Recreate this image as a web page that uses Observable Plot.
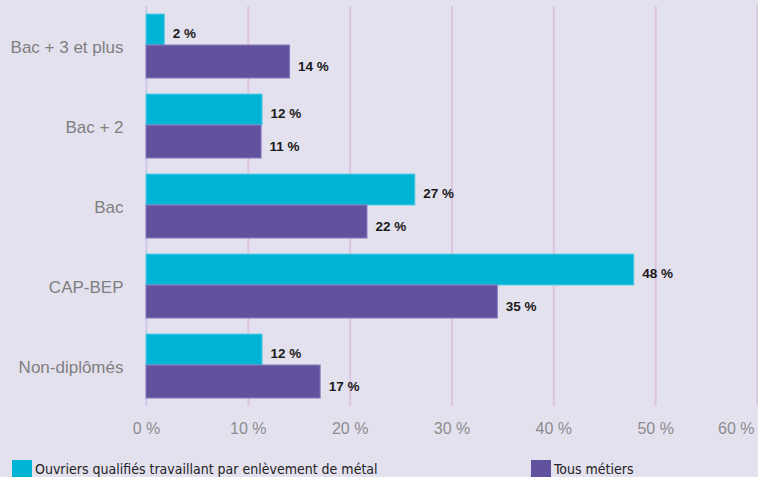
<!DOCTYPE html>
<html>
<head>
<meta charset="utf-8">
<script src="https://cdn.jsdelivr.net/npm/d3@7"></script>
<script src="https://cdn.jsdelivr.net/npm/@observablehq/plot@0.6"></script>
<style>
  html, body { margin: 0; padding: 0; background: #e4e1ef; width: 758px; height: 477px; overflow: hidden; }
  #chart svg { display: block; }
  .legend { position: relative; height: 29px; font-family: "DejaVu Sans Condensed", "DejaVu Sans", sans-serif; font-stretch: condensed; font-size: 14px; color: #222; }
  .legend .item { position: absolute; top: 12px; display: flex; align-items: flex-start; }
  .legend .sw { width: 20px; height: 20px; margin-right: 3px; }
  .legend .lab { line-height: 18px; }
</style>
</head>
<body>
<div id="chart"></div>
<div class="legend" id="legend"></div>
<script>
const categories = ["Bac + 3 et plus", "Bac + 2", "Bac", "CAP-BEP", "Non-diplômés"];
const seriesNames = ["Ouvriers qualifiés travaillant par enlèvement de métal", "Tous métiers"];
const ouvriersValues = [1.8, 11.4, 26.4, 47.9, 11.4];
const tousValues = [14.1, 11.3, 21.7, 34.5, 17.1];
const ouvriersLabels = ["2 %", "12 %", "27 %", "48 %", "12 %"];
const tousLabels = ["14 %", "11 %", "22 %", "35 %", "17 %"];
const xTicks = [0, 10, 20, 30, 40, 50, 60];
const xTickLabels = ["0 %", "10 %", "20 %", "30 %", "40 %", "50 %", "60 %"];
const colors = ["#00b4d6", "#62529e"];

const ouv = categories.map((c, i) => ({cat: c, v: ouvriersValues[i], label: ouvriersLabels[i]}));
const tous = categories.map((c, i) => ({cat: c, v: tousValues[i], label: tousLabels[i]}));
const ticks = xTicks.map((t, i) => ({t, label: xTickLabels[i]}));

const chart = Plot.plot({
  width: 758,
  height: 448,
  marginLeft: 146,
  marginRight: 1,
  marginTop: 6,
  marginBottom: 42,
  style: {background: "transparent", fontFamily: "'Liberation Sans', Arial, sans-serif"},
  x: {domain: [0, 60], axis: null},
  y: {domain: categories, paddingInner: 0.2, paddingOuter: 0.1, axis: null},
  marks: [
    Plot.ruleX(ticks.filter(d => d.t > 0), {x: "t", stroke: "#dcc3df", strokeWidth: 2}),
    Plot.ruleX([0], {stroke: "#c8cbe9", strokeWidth: 2}),
    Plot.barX(ouv, {y: "cat", x: "v", fill: colors[0], stroke: "#5ccbe4", strokeWidth: 1, insetBottom: 33}),
    Plot.barX(tous, {y: "cat", x: "v", fill: colors[1], stroke: "#8679bd", strokeWidth: 1, insetTop: 31}),
    Plot.text(ouv, {y: "cat", x: "v", text: "label", dy: -13, dx: 8, textAnchor: "start", fontSize: 13.5, fontWeight: "bold", fill: "#1a1a1a"}),
    Plot.text(tous, {y: "cat", x: "v", text: "label", dy: 20, dx: 8, textAnchor: "start", fontSize: 13.5, fontWeight: "bold", fill: "#1a1a1a"}),
    Plot.text(categories, {y: d => d, x: 0, text: d => d, dx: -23, dy: 1, textAnchor: "end", fontSize: 17, fill: "#7f7f7f"}),
    Plot.text(ticks.slice(0, -1), {x: "t", frameAnchor: "bottom", text: "label", dy: 27, fontSize: 16, fill: "#8c8c8c"}),
    Plot.text(ticks.slice(-1), {x: "t", frameAnchor: "bottom", text: "label", dy: 27, dx: -3, textAnchor: "end", fontSize: 16, fill: "#8c8c8c"})
  ]
});
document.getElementById("chart").appendChild(chart);

const legend = document.getElementById("legend");
const lefts = [12, 531];
seriesNames.forEach((name, i) => {
  const item = document.createElement("div");
  item.className = "item";
  item.style.left = lefts[i] + "px";
  const sw = document.createElement("div");
  sw.className = "sw";
  sw.style.background = colors[i];
  const lab = document.createElement("span");
  lab.className = "lab";
  lab.textContent = name;
  item.appendChild(sw);
  item.appendChild(lab);
  legend.appendChild(item);
});
</script>
</body>
</html>
